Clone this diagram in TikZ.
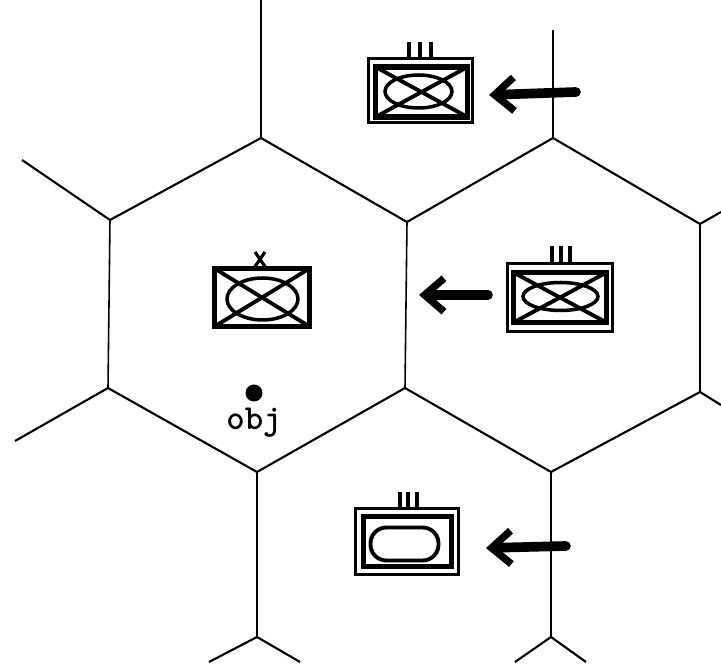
\documentclass[tikz,border=0pt]{standalone}
\usetikzlibrary{arrows.meta,shapes.geometric}
\tikzset{
	grid/.style={line width=1.2pt},
	post/.style={line width=.9pt},
	framebox/.style={rectangle,draw,line width=2pt,outer sep=0pt,inner sep=0pt},
	heavybox/.style={rectangle,draw,line width=3pt,outer sep=0pt,inner sep=0pt},
	oval/.style={ellipse,draw,line width=2pt,outer sep=0pt,inner sep=0pt},
	pill/.style={rectangle,rounded corners=9pt,draw,line width=2.2pt,outer sep=0pt,inner sep=0pt},
	cross/.style={line width=2.2pt},
	tick/.style={line width=1.8pt},
	move/.style={line width=5.5pt,line cap=round,-{Straight Barb[length=11pt,width=19pt,line width=4.2pt]}}
}
\begin{document}
\begin{tikzpicture}[x=.02cm,y=-.02cm]
	\useasboundingbox (0,0) rectangle (721,665);
	% grid corners
	\coordinate (t1) at (261,138);
	\coordinate (t2) at (553,138);
	\coordinate (u1) at (110,220);
	\coordinate (u2) at (407,222);
	\coordinate (u3) at (700,224);
	\coordinate (d1) at (108,388);
	\coordinate (d2) at (405,388);
	\coordinate (d3) at (700,392);
	\coordinate (b1) at (257,472);
	\coordinate (b2) at (551,472);
	\coordinate (f1) at (257,637);
	\coordinate (f2) at (551,637);
	% free ends
	\coordinate (e1) at (261,0);
	\coordinate (e2) at (553,30);
	\coordinate (e3) at (22,160);
	\coordinate (e4) at (721,212);
	\coordinate (e5) at (15,441);
	\coordinate (e6) at (721,405);
	\coordinate (e7) at (209,662);
	\coordinate (e8) at (300,662);
	\coordinate (e9) at (515,662);
	\coordinate (e10) at (586,662);
	\draw[grid] (u1) -- (t1);
	\draw[grid] (t1) -- (u2);
	\draw[grid] (u2) -- (t2);
	\draw[grid] (t2) -- (u3);
	\draw[grid] (d1) -- (b1);
	\draw[grid] (b1) -- (d2);
	\draw[grid] (d2) -- (b2);
	\draw[grid] (b2) -- (d3);
	\draw[post] (u1) -- (d1);
	\draw[post] (u2) -- (d2);
	\draw[post] (u3) -- (d3);
	\draw[post] (e1) -- (t1);
	\draw[post] (e2) -- (t2);
	\draw[post] (b1) -- (f1);
	\draw[post] (b2) -- (f2);
	\draw[grid] (e3) -- (u1);
	\draw[grid] (e4) -- (u3);
	\draw[grid] (e5) -- (d1);
	\draw[grid] (e6) -- (d3);
	\draw[grid] (e7) -- (f1);
	\draw[grid] (f1) -- (e8);
	\draw[grid] (e9) -- (f2);
	\draw[grid] (f2) -- (e10);
	% top unit
	\node[framebox,minimum width=2.08cm,minimum height=1.28cm] (a0) at (420.5,90.5) {};
	\node[heavybox,minimum width=1.84cm,minimum height=1cm] (a1) at (421.5,92) {};
	\node[oval,minimum width=1.34cm,minimum height=.66cm] (a2) at (418.5,91.5) {};
	\draw[cross] (a1.north west) -- (a1.south east);
	\draw[cross] (a1.south west) -- (a1.north east);
	\coordinate (a3) at (409,42);
	\coordinate (a4) at (420,42);
	\coordinate (a5) at (431,42);
	\draw[tick] (a3) -- (a3 |- a0.north);
	\draw[tick] (a4) -- (a4 |- a0.north);
	\draw[tick] (a5) -- (a5 |- a0.north);
	\coordinate (a6) at (576,92);
	\coordinate (a7) at (489,95);
	\draw[move] (a6) -- (a7);
	% middle unit
	\node[heavybox,line width=3.2pt,minimum width=1.9cm,minimum height=1.16cm] (c1) at (262,297.5) {};
	\node[oval,minimum width=1.42cm,minimum height=.84cm] (c2) at (262.5,299) {};
	\draw[cross] (c1.north west) -- (c1.south east);
	\draw[cross] (c1.south west) -- (c1.north east);
	\coordinate (c3) at (255,252);
	\coordinate (c4) at (265,252);
	\coordinate (c5) at (254,268);
	\coordinate (c6) at (266,268);
	\draw[tick] (c3) -- (c6);
	\draw[tick] (c4) -- (c5);
	% right unit
	\node[framebox,minimum width=2.1cm,minimum height=1.36cm] (r0) at (560,297.5) {};
	\node[heavybox,minimum width=1.86cm,minimum height=1cm] (r1) at (560,297.5) {};
	\node[oval,minimum width=1.5cm,minimum height=.56cm] (r2) at (560.5,296.5) {};
	\draw[cross] (r1.north west) -- (r1.south east);
	\draw[cross] (r1.south west) -- (r1.north east);
	\coordinate (r3) at (552,246);
	\coordinate (r4) at (561,246);
	\coordinate (r5) at (570,246);
	\draw[tick] (r3) -- (r3 |- r0.north);
	\draw[tick] (r4) -- (r4 |- r0.north);
	\draw[tick] (r5) -- (r5 |- r0.north);
	\coordinate (r6) at (488,295);
	\coordinate (r7) at (419,295);
	\draw[move] (r6) -- (r7);
	% bottom unit
	\node[framebox,minimum width=2.06cm,minimum height=1.32cm] (s0) at (407,541.5) {};
	\node[framebox,line width=2.4pt,minimum width=1.76cm,minimum height=1cm] (s1) at (407.5,541.5) {};
	\node[pill,minimum width=1.36cm,minimum height=.66cm] (s2) at (404.5,544) {};
	\coordinate (s3) at (400,492);
	\coordinate (s4) at (408,492);
	\coordinate (s5) at (417,492);
	\draw[tick] (s3) -- (s3 |- s0.north);
	\draw[tick] (s4) -- (s4 |- s0.north);
	\draw[tick] (s5) -- (s5 |- s0.north);
	\coordinate (s6) at (566,546);
	\coordinate (s7) at (486,548);
	\draw[move] (s6) -- (s7);
	% objective
	\node[circle,fill,minimum size=.34cm,inner sep=0pt] (dot) at (254,393) {};
	\node[font=\fontsize{20}{20}\selectfont\ttfamily\bfseries] (obj) at (254,423) {obj};
\end{tikzpicture}
\end{document}
